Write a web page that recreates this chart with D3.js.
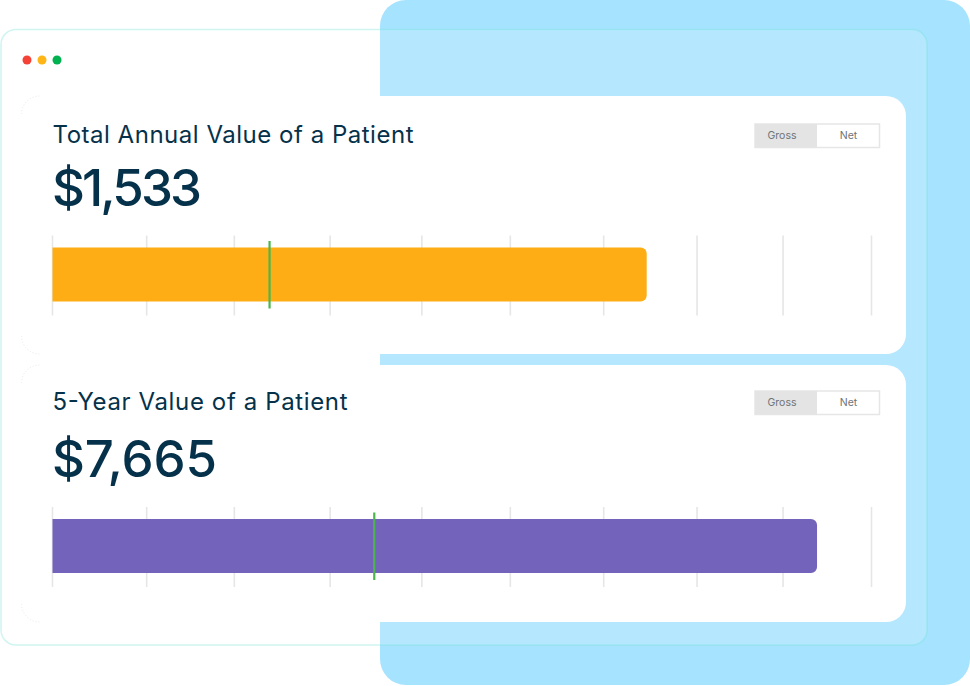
<!DOCTYPE html>
<html>

<head>
    <meta charset="utf-8">
    <style>
        html, body {
            margin: 0;
            padding: 0;
            background: #fff;
        }

        svg {
            display: block;
            font-family: "Inter", sans-serif;
        }

        .axis .domain {
            display: none;
        }

        .axis .tick line {
            stroke: #e6e6e6;
            stroke-width: 1.6px;
        }

        .title {
            font-size: 24px;
            fill: #05324a;
        }

        .value {
            font-size: 51px;
            font-weight: 500;
            fill: #05324a;
        }

        .toggle-label {
            font-size: 10.5px;
            fill: #6d7378;
            text-anchor: middle;
        }
    </style>
</head>

<body>
    <svg width="970" height="686"></svg>

    <script src="https://d3js.org/d3.v7.min.js"></script>
    <script>
        // chart values
        const titles = ["Total Annual Value of a Patient", "5-Year Value of a Patient"]
        const valueLabels = ["$1,533", "$7,665"]
        const barValues = [1533, 7665]
        const markerValues = [560, 3226]
        const axisMax = [2113, 8211]
        const barColors = ["#feae14", "#7463ba"]
        const tickShares = [0, 11.5, 22.2, 33.9, 45.1, 55.9, 67.3, 78.7, 89.2, 100]
        const toggleLabels = ["Gross", "Net"]
        const windowDots = ["#f44336", "#ffb515", "#00b14f"]

        const svg = d3.select("svg")

        // panel geometry
        const axisLeft = 52.5
        const axisRight = 871.5
        const panelTop = [96, 365]
        const cardHeight = [258, 257]
        const titleY = [143, 410]
        const valueY = [206, 477]
        const valueWidth = [150, 165]
        const titleWidth = [361, 295]
        const barTop = [247.5, 519]
        const barHeight = 54
        const toggleTop = [124, 391]

        // backdrop
        svg.append("rect")
            .attr("x", 380)
            .attr("y", 0)
            .attr("width", 590)
            .attr("height", 685)
            .attr("rx", 26)
            .style("fill", "#a5e3ff")

        // browser window
        svg.append("rect")
            .attr("x", 1)
            .attr("y", 29.5)
            .attr("width", 926)
            .attr("height", 615.5)
            .attr("rx", 15)
            .style("fill", "rgba(255, 255, 255, .18)")
            .style("stroke", "rgba(120, 225, 215, .35)")
            .style("stroke-width", "1.5px")

        svg.append("g")
            .selectAll("circle")
            .data(windowDots)
            .join("circle")
            .attr("cx", (d, i) => 27 + i * 15)
            .attr("cy", 60)
            .attr("r", 4.5)
            .style("fill", d => d)

        titles.forEach(function (title, i) {
            let x = d3.scaleLinear()
                .domain([0, axisMax[i]])
                .range([axisLeft, axisRight])

            let tickX = d3.scaleLinear()
                .domain([0, 100])
                .range([axisLeft, axisRight])

            let top = panelTop[i]
            let panel = svg.append("g").attr("class", "panel")

            // card
            panel.append("rect")
                .attr("x", 21)
                .attr("y", top)
                .attr("width", 885)
                .attr("height", cardHeight[i])
                .attr("rx", 20)
                .style("fill", "#fff")

            // faint dotted corners of the card
            let h = cardHeight[i]
            panel.append("path")
                .attr("d", `M21.5,${top + 18} A18,18 0 0 1 39.5,${top}`)
                .style("fill", "none")
                .style("stroke", "#e6ecec")
                .style("stroke-dasharray", "1 2")
            panel.append("path")
                .attr("d", `M21.5,${top + h - 18} A18,18 0 0 0 39.5,${top + h}`)
                .style("fill", "none")
                .style("stroke", "#e6ecec")
                .style("stroke-dasharray", "1 2")

            panel.append("text")
                .attr("class", "title")
                .attr("x", 52.5)
                .attr("y", titleY[i])
                .attr("textLength", titleWidth[i])
                .attr("lengthAdjust", "spacing")
                .text(title)

            panel.append("text")
                .attr("class", "value")
                .attr("x", 52)
                .attr("y", valueY[i])
                .attr("textLength", valueWidth[i])
                .attr("lengthAdjust", "spacing")
                .text(valueLabels[i])

            // gross / net toggle
            let toggle = panel.append("g")
                .attr("transform", `translate(0,${toggleTop[i]})`)

            toggle.append("rect")
                .attr("x", 755)
                .attr("y", 0)
                .attr("width", 124.5)
                .attr("height", 23.5)
                .style("fill", "#fff")
                .style("stroke", "#e6e6e6")
                .style("stroke-width", "1.5px")

            toggle.append("rect")
                .attr("x", 755)
                .attr("y", 0)
                .attr("width", 62)
                .attr("height", 23.5)
                .style("fill", "#e4e4e4")

            toggle.selectAll("text")
                .data(toggleLabels)
                .join("text")
                .attr("class", "toggle-label")
                .attr("x", (d, j) => j == 0 ? 782 : 848.5)
                .attr("y", 14.5)
                .text(d => d)

            // tick lines sit behind the bar
            let axis = d3.axisBottom(tickX)
                .tickValues(tickShares)
                .tickSize(80)
                .tickFormat("")
                .offset(0)

            panel.append("g")
                .attr("class", "axis")
                .attr("transform", `translate(0,${barTop[i] - 12})`)
                .call(axis)

            let barEnd = x(barValues[i])
            let barLine = d3.path()
            let r = 6
            let bt = barTop[i]
            barLine.moveTo(axisLeft, bt)
            barLine.lineTo(barEnd - r, bt)
            barLine.arcTo(barEnd, bt, barEnd, bt + r, r)
            barLine.lineTo(barEnd, bt + barHeight - r)
            barLine.arcTo(barEnd, bt + barHeight, barEnd - r, bt + barHeight, r)
            barLine.lineTo(axisLeft, bt + barHeight)
            barLine.closePath()

            panel.append("path")
                .attr("class", "bar")
                .attr("d", barLine.toString())
                .style("fill", barColors[i])

            // green benchmark marker
            panel.append("line")
                .attr("x1", x(markerValues[i]))
                .attr("x2", x(markerValues[i]))
                .attr("y1", bt - 6.5)
                .attr("y2", bt + barHeight + 7)
                .style("stroke", "#4bb54f")
                .style("stroke-width", "2.2px")
        })
    </script>
</body>

</html>
